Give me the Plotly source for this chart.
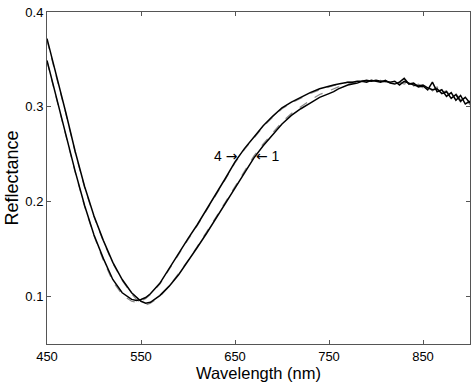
import plotly.graph_objects as go

wavelength = [450, 460, 470, 480, 490, 500, 510, 520, 530, 540, 545, 550, 555, 560, 570, 580, 590,
              600, 610, 620, 630, 640, 650, 660, 670, 680, 690, 700, 710, 720, 730, 740,
              750, 755, 760, 765, 770, 775, 780, 785, 790, 795, 800, 805, 810, 815, 820, 825,
              830, 835, 840, 845, 850, 855, 860, 865, 870, 875, 880, 885, 890, 895, 900]

curve1 = [0.372, 0.334, 0.294, 0.253, 0.216, 0.185, 0.159, 0.136, 0.118, 0.104, 0.099, 0.095, 0.093, 0.094, 0.101, 0.111, 0.123,
          0.137, 0.152, 0.167, 0.183, 0.199, 0.215, 0.231, 0.246, 0.259, 0.271, 0.282, 0.291, 0.298, 0.304, 0.310,
          0.314, 0.316, 0.319, 0.321, 0.323, 0.324, 0.325, 0.327, 0.326, 0.328, 0.327, 0.326, 0.328, 0.325, 0.324, 0.326,
          0.330, 0.324, 0.325, 0.321, 0.322, 0.318, 0.326, 0.316, 0.318, 0.311, 0.315, 0.307, 0.312, 0.303, 0.306]

curve2 = [0.370, 0.333, 0.293, 0.252, 0.215, 0.184, 0.158, 0.135, 0.117, 0.103, 0.097, 0.093, 0.091, 0.093, 0.100, 0.111, 0.124,
          0.138, 0.153, 0.168, 0.184, 0.200, 0.216, 0.232, 0.248, 0.261, 0.273, 0.284, 0.293, 0.300, 0.307, 0.313,
          0.317, 0.319, 0.321, 0.322, 0.324, 0.325, 0.326, 0.326, 0.327, 0.327, 0.328, 0.325, 0.327, 0.326, 0.322, 0.325,
          0.326, 0.325, 0.322, 0.323, 0.320, 0.321, 0.317, 0.321, 0.313, 0.316, 0.309, 0.312, 0.305, 0.309, 0.302]

curve3 = [0.348, 0.309, 0.269, 0.231, 0.195, 0.164, 0.138, 0.116, 0.102, 0.095, 0.094, 0.095, 0.098, 0.102, 0.113, 0.129, 0.145,
          0.160, 0.175, 0.191, 0.207, 0.224, 0.241, 0.255, 0.267, 0.279, 0.289, 0.298, 0.304, 0.309, 0.314, 0.318,
          0.321, 0.323, 0.324, 0.325, 0.326, 0.326, 0.327, 0.328, 0.327, 0.328, 0.327, 0.328, 0.326, 0.327, 0.325, 0.326,
          0.324, 0.326, 0.322, 0.324, 0.321, 0.322, 0.317, 0.320, 0.315, 0.317, 0.310, 0.314, 0.307, 0.311, 0.303]

curve4 = [0.349, 0.310, 0.270, 0.232, 0.196, 0.165, 0.140, 0.118, 0.104, 0.097, 0.096, 0.097, 0.099, 0.103, 0.114, 0.130, 0.146,
          0.161, 0.176, 0.192, 0.208, 0.225, 0.242, 0.256, 0.268, 0.280, 0.290, 0.299, 0.305, 0.310, 0.315, 0.319,
          0.322, 0.323, 0.324, 0.325, 0.326, 0.326, 0.327, 0.327, 0.328, 0.327, 0.328, 0.327, 0.327, 0.326, 0.327, 0.323,
          0.327, 0.325, 0.323, 0.322, 0.323, 0.320, 0.318, 0.319, 0.314, 0.316, 0.309, 0.313, 0.306, 0.310, 0.304]

x_ticks = [450, 550, 650, 750, 850]
y_ticks = [0.1, 0.2, 0.3, 0.4]

fig = go.Figure()
fig.add_trace(go.Scatter(x=wavelength, y=curve2, mode="lines", name="2",
                         line=dict(color="#8a8a8a", width=1.2, dash="dash")))
fig.add_trace(go.Scatter(x=wavelength, y=curve3, mode="lines", name="3",
                         line=dict(color="#8a8a8a", width=1.2, dash="dash")))
fig.add_trace(go.Scatter(x=wavelength, y=curve1, mode="lines", name="1",
                         line=dict(color="black", width=1.5)))
fig.add_trace(go.Scatter(x=wavelength, y=curve4, mode="lines", name="4",
                         line=dict(color="black", width=1.5)))

font_family = "Liberation Sans, Arial, sans-serif"
axis_common = dict(showgrid=False, zeroline=False, showline=True, mirror="ticks",
                   linecolor="#555555", linewidth=1, ticks="inside", ticklen=4,
                   tickcolor="#555555", automargin=False,
                   tickfont=dict(family=font_family, size=13, color="black"))

fig.update_xaxes(range=[450, 900], tickvals=x_ticks, ticktext=[str(v) for v in x_ticks],
                 title=dict(text="Wavelength (nm)", font=dict(family=font_family, size=16.5, color="black"),
                            standoff=2),
                 **axis_common)
fig.update_yaxes(range=[0.05, 0.4], tickvals=y_ticks, ticktext=[f"{v:.1f}" for v in y_ticks],
                 title=dict(text="Reflectance", font=dict(family=font_family, size=18, color="black"),
                            standoff=2),
                 **axis_common)

arrow_span = "<span style='font-family:DejaVu Sans'>{}</span>"
fig.add_annotation(x=655, y=0.2482, text="4 " + arrow_span.format("→"), showarrow=False,
                   xanchor="right", yanchor="middle",
                   font=dict(family=font_family, size=14, color="black"))
fig.add_annotation(x=670, y=0.2482, text=arrow_span.format("←") + " 1", showarrow=False,
                   xanchor="left", yanchor="middle",
                   font=dict(family=font_family, size=14, color="black"))

fig.update_layout(width=474, height=382, margin=dict(l=47, r=4, t=12, b=38),
                  paper_bgcolor="white", plot_bgcolor="white", showlegend=False)

fig.write_html("out.html", config={"displayModeBar": False},
               post_script="document.body.style.margin='0';")
